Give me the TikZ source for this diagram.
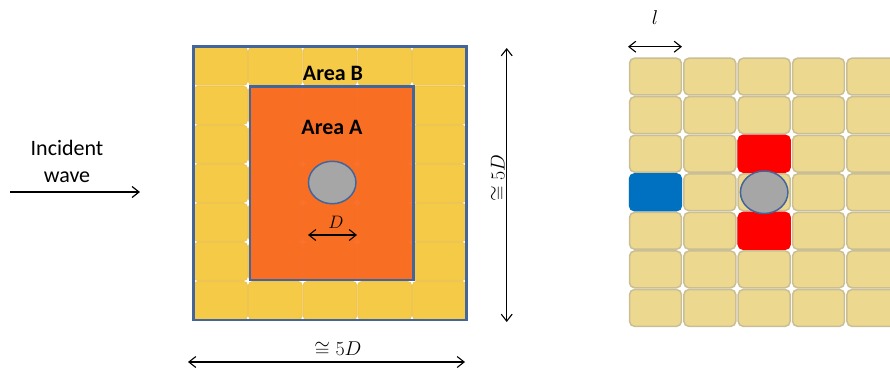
\RequirePackage{fix-cm}
\documentclass[tikz,border=0pt]{standalone}
\usepackage{fontspec}
\setmainfont{Carlito}
\usetikzlibrary{arrows.meta,positioning,shapes.geometric}

\definecolor{areaB}{HTML}{F5CA47}
\definecolor{areaBline}{HTML}{EFC552}
\definecolor{areaA}{HTML}{F96A22}
\definecolor{frameblue}{HTML}{44659B}
\definecolor{tancell}{HTML}{ECD98F}
\definecolor{tanline}{HTML}{C9BE96}
\definecolor{obstgray}{HTML}{A6A6A6}
\definecolor{hitred}{HTML}{FF0000}
\definecolor{probeblue}{HTML}{0070C0}

\begin{document}
\begin{tikzpicture}[x=1pt, y=-1pt,
    cellB/.style={draw=areaBline, fill=areaB, line width=1pt, rounded corners=4pt, minimum width=53.7pt, minimum height=38pt, inner sep=0pt},
    cellT/.style={draw=tanline, fill=tancell, line width=1.5pt, rounded corners=5pt, minimum width=51.9pt, minimum height=36.8pt, inner sep=0pt},
    obst/.style={ellipse, draw=frameblue, fill=obstgray, line width=1.5pt, minimum width=47.5pt, minimum height=42.5pt, inner sep=0pt},
    arr/.style={-{Straight Barb[length=7pt,width=11pt]}, line width=1.2pt},
    dim/.style={{Straight Barb[length=7pt,width=11pt]}-{Straight Barb[length=7pt,width=11pt]}, line width=1.1pt},
    lbl/.style={font=\fontsize{22}{27}\selectfont, align=center, inner sep=0pt},
    area/.style={font=\fontsize{22}{26}\selectfont\bfseries, inner sep=0pt},
    mathlbl/.style={font=\fontsize{20}{24}\selectfont, inner sep=0pt},
  ]
  \useasboundingbox (0,0) rectangle (890,370);

  % incident wave
  \node[lbl] (inc) at (67,161) {Incident\\wave};
  \coordinate (wA) at (10,192);
  \coordinate (wB) at (140,192);
  \draw[arr] (wA) -- (wB);

  % computational domain
  \foreach \c in {1,...,5}
    \foreach \r in {1,...,7}
      \node[cellB] (b-\c-\r) at ({193.3+54.67*(\c-0.5)}, {46.7+39.05*(\r-0.5)}) {};
  \draw[frameblue, fill=areaA, fill opacity=0.94, line width=2.5pt] (250,86.7) rectangle (413.3,280);
  \draw[frameblue, line width=2.5pt] (193.3,46.7) rectangle (466.7,320);
  \node[area] (labB) at (333,73) {Area B};
  \node[area] (labA) at (332,127) {Area A};
  \node[obst] (cylL) at (332.2,182.5) {};

  \coordinate (dA) at (308,235);
  \coordinate (dB) at (357,235);
  \draw[dim] (dA) -- (dB);
  \node[mathlbl, font=\fontsize{18}{21}\selectfont] (labD) at (336,222) {$D$};

  \coordinate (vA) at (506.7,48);
  \coordinate (vB) at (506.7,322);
  \draw[dim] (vA) -- (vB);
  \node[mathlbl, rotate=90] (labV) at (498,178) {$\cong 5D$};

  \coordinate (hA) at (188,362);
  \coordinate (hB) at (465,362);
  \draw[dim] (hA) -- (hB);
  \node[mathlbl] (labH) at (338,349) {$\cong 5D$};

  % lattice
  \begin{scope}
    \clip (600,0) rectangle (890,370);
    \foreach \c in {1,...,5}
      \foreach \r in {1,...,7}
        \node[cellT] (t-\c-\r) at ({628.3+54.35*(\c-0.5)}, {57.3+38.56*(\r-0.5)}) {};
  \end{scope}
  \node[cellT, draw=hitred, fill=hitred] (hitN) at (t-3-3) {};
  \node[cellT, draw=hitred, fill=hitred] (hitS) at (t-3-5) {};
  \node[cellT, draw=probeblue, fill=probeblue] (probe) at (t-1-4) {};
  \node[obst] (cylR) at (t-3-4) {};

  \coordinate (lA) at (628,46.7);
  \coordinate (lB) at (682,46.7);
  \draw[dim] (lA) -- (lB);
  \node[mathlbl] (labL) at (655,18) {$l$};
\end{tikzpicture}
\end{document}
